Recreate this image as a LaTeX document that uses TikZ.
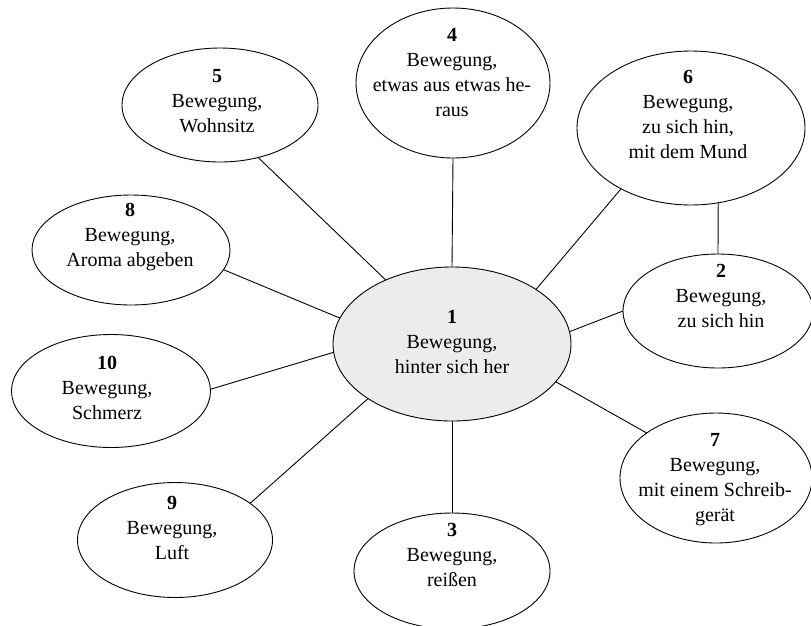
\documentclass[tikz,border=0pt]{standalone}
\usepackage{fontspec}
\setmainfont{Liberation Serif}
\usetikzlibrary{shapes.geometric}
\definecolor{centerfill}{RGB}{236,236,236}
\begin{document}
\begin{tikzpicture}[x=1pt,y=-1pt,
  bub/.style={ellipse, draw, line width=0.9pt, inner sep=0pt, outer sep=0pt},
  txt/.style={anchor=north, align=center, inner sep=0pt, font=\fontsize{20}{25}\selectfont},
  link/.style={draw, line width=0.9pt}]
\useasboundingbox (0,0) rectangle (811,625);
% ellipses
\node[bub, fill=centerfill, minimum width=238pt, minimum height=154pt] (e1) at (452,344) {};
\node[bub, minimum width=194pt, minimum height=150pt] (e4) at (453,83) {};
\node[bub, minimum width=196pt, minimum height=114pt] (e5) at (220,105) {};
\node[bub, minimum width=228pt, minimum height=154pt] (e6) at (691,128) {};
\node[bub, minimum width=198pt, minimum height=110pt] (e8) at (131,250) {};
\node[bub, minimum width=190pt, minimum height=114pt] (e2) at (718,311) {};
\node[bub, minimum width=199pt, minimum height=113pt] (e10) at (111,391) {};
\node[bub, minimum width=192pt, minimum height=130pt] (e7) at (716,478) {};
\node[bub, minimum width=195pt, minimum height=115pt] (e9) at (175,540) {};
\node[bub, minimum width=196pt, minimum height=116pt] (e3) at (452,571) {};
% texts
\node[txt] (t1) at (452,310) {\textbf{1}\\Bewegung,\\hinter sich her};
\node[txt] (t4) at (452,28) {\textbf{4}\\Bewegung,\\etwas aus etwas he-\\raus};
\node[txt] (t5) at (217,69) {\textbf{5}\\Bewegung,\\Wohnsitz};
\node[txt] (t6) at (688,70) {\textbf{6}\\Bewegung,\\zu sich hin,\\mit dem Mund};
\node[txt] (t8) at (130,203) {\textbf{8}\\Bewegung,\\Aroma abgeben};
\node[txt] (t2) at (721,264) {\textbf{2}\\Bewegung,\\zu sich hin};
\node[txt] (t10) at (107,356) {\textbf{10}\\Bewegung,\\Schmerz};
\node[txt] (t7) at (715,433) {\textbf{7}\\Bewegung,\\mit einem Schreib-\\gerät};
\node[txt] (t9) at (172,496) {\textbf{9}\\Bewegung,\\Luft};
\node[txt] (t3) at (452,523) {\textbf{3}\\Bewegung,\\reißen};
% connectors
\draw[link] (e5.-54) -- (e1.136);
\draw[link] (e4.south) -- (e1.north);
\draw[link] (e6.221) -- (e1.33);
\draw[link] (e6.-70.1) -- (e2.north);
\draw[link] (e2.180) -- (e1.6);
\draw[link] (e7.147) -- (e1.-20);
\draw[link] (e3.north) -- (e1.south);
\draw[link] (e9.26) -- (e1.213.5);
\draw[link] (e10.1) -- (e1.184);
\draw[link] (e8.-12.6) -- (e1.167);
\end{tikzpicture}
\end{document}
